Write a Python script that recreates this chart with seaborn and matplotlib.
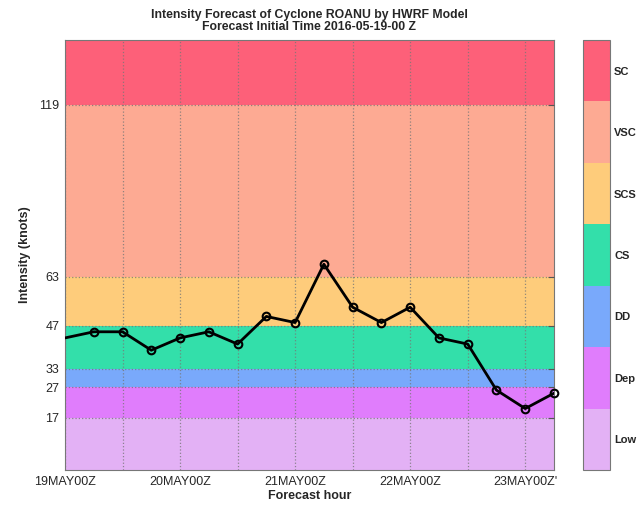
import matplotlib
matplotlib.use("Agg")
import matplotlib.pyplot as plt
from matplotlib.colors import ListedColormap, BoundaryNorm
import matplotlib.colorbar as mcolorbar
import numpy as np
import pandas as pd
import seaborn as sns

# Forecast hours and HWRF intensity (knots)
forecast_hours = [0, 6, 12, 18, 24, 30, 36, 42, 48, 54, 60, 66, 72, 78, 84, 90, 96, 102]
intensity_kt = [43, 45, 45, 39, 43, 45, 41, 50, 48, 67, 53, 48, 53, 43, 41, 26, 20, 25]

# Intensity category bands (IMD scale)
category_names = ["Low", "Dep", "DD", "CS", "SCS", "VSC", "SC"]
category_bounds = [0, 17, 27, 33, 47, 63, 119, 140]
category_colors = ["#e3b1f5", "#e07dfc", "#79a9fb", "#33dfaa", "#fecc7b", "#fdaa93", "#fd6079"]

ytick_values = [17, 27, 33, 47, 63, 119]
xtick_hours = [0, 12, 24, 36, 48, 60, 72, 84, 96]
xtick_labels = ["19MAY00Z", "", "20MAY00Z", "", "21MAY00Z", "", "22MAY00Z", "", "23MAY00Z'"]

sns.set_style("white")
plt.rcParams["font.family"] = ["Liberation Sans", "DejaVu Sans"]

df = pd.DataFrame({"hour": forecast_hours, "intensity": intensity_kt})

fig = plt.figure(figsize=(6.43, 5.07), dpi=100)
ax = fig.add_axes([65 / 643, 37 / 507, 489 / 643, 430 / 507])

for lo, hi, col in zip(category_bounds[:-1], category_bounds[1:], category_colors):
    ax.axhspan(lo, hi, color=col, zorder=0, lw=0)

sns.lineplot(data=df, x="hour", y="intensity", ax=ax, color="black",
             linewidth=2.0, zorder=3)
ax.plot(df["hour"][1:], df["intensity"][1:], linestyle="none", marker="o",
        markersize=5.5, markerfacecolor="none", markeredgecolor="black",
        markeredgewidth=1.5, zorder=4, clip_on=False)

ax.set_xlim(0, 102)
ax.set_ylim(0, 140)
ax.set_xticks(xtick_hours)
ax.set_xticklabels(xtick_labels, fontsize=9)
ax.set_yticks(ytick_values)
ax.set_yticklabels([str(v) for v in ytick_values], fontsize=9)
ax.tick_params(axis="both", direction="in", length=4, color="#555555",
               top=False, right=True, pad=4)
ax.grid(True, linestyle=":", color="#777777", linewidth=0.9, alpha=0.8)
ax.set_axisbelow(False)
for s in ax.spines.values():
    s.set_color("#777777")
    s.set_linewidth(0.8)

ax.set_xlabel("Forecast hour", fontsize=9, fontweight="bold", labelpad=2)
ax.set_ylabel("Intensity (knots)", fontsize=9, fontweight="bold", labelpad=6)
ax.set_title("Intensity Forecast of Cyclone ROANU by HWRF Model\n"
             "Forecast Initial Time 2016-05-19-00 Z",
             fontsize=8.8, fontweight="bold", pad=7, linespacing=1.0)

# Category colour bar
cax = fig.add_axes([583 / 643, 37 / 507, 27 / 643, 430 / 507])
cmap = ListedColormap(category_colors)
norm = BoundaryNorm(np.arange(len(category_names) + 1), cmap.N)
cb = mcolorbar.ColorbarBase(cax, cmap=cmap, norm=norm, orientation="vertical")
cb.set_ticks(np.arange(len(category_names)) + 0.5)
cb.set_ticklabels(category_names)
cax.yaxis.set_tick_params(which="both", direction="in", length=4, left=True,
                          right=True, labelsize=8, color="#333333", pad=3)
cax.minorticks_off()
for lab in cax.get_yticklabels():
    lab.set_fontweight("bold")
cb.outline.set_edgecolor("#777777")
cb.outline.set_linewidth(0.8)

fig.savefig("out.png", dpi=100)
